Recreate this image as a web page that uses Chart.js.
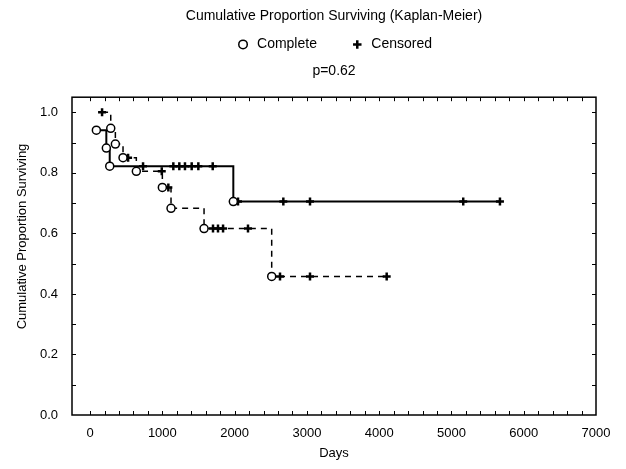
<!DOCTYPE html>
<html>
<head>
<meta charset="utf-8">
<script src="https://cdn.jsdelivr.net/npm/chart.js@4.4.1/dist/chart.umd.min.js"></script>
<style>
	html, body { margin: 0; padding: 0; background: #fff; }
	.chart-box { position: relative; width: 626px; height: 469px; }
</style>
</head>
<body>
<div class="chart-box"><canvas id="km"></canvas></div>
<script>
// group 1, solid curve (1 = complete, 0 = censored)
const solidDays = [87, 225, 272, 733, 1152, 1235, 1313, 1406, 1498, 1697, 1982, 2047, 2674, 3043, 5163, 5671];
const solidSurv = [0.941, 0.882, 0.822, 0.822, 0.822, 0.822, 0.822, 0.822, 0.822, 0.822, 0.705, 0.705, 0.705, 0.705, 0.705, 0.705];
const solidStatus = [1, 1, 1, 0, 0, 0, 0, 0, 0, 0, 1, 0, 0, 0, 0, 0];

// group 2, dashed curve
const dashedDays = [166, 286, 350, 456, 526, 640, 992, 1000, 1083, 1120, 1577, 1701, 1770, 1840, 2185, 2513, 2628, 3043, 4104];
const dashedSurv = [1.0, 0.947, 0.895, 0.85, 0.85, 0.805, 0.805, 0.752, 0.752, 0.683, 0.616, 0.616, 0.616, 0.616, 0.616, 0.458, 0.458, 0.458, 0.458];
const dashedStatus = [0, 1, 1, 1, 0, 1, 0, 1, 0, 1, 1, 0, 0, 0, 0, 1, 0, 0, 0];

const xTickValues = [0, 1000, 2000, 3000, 4000, 5000, 6000, 7000];
const yTickValues = [0, 0.2, 0.4, 0.6, 0.8, 1.0];

const ink = '#000';
const font = 'Liberation Sans, Arial, sans-serif';
const yTitle = 'Cumulative Proportion Surviving';

function toPoints(days, surv, status, keep) {
	const points = [];
	days.forEach((day, i) => {
		if (keep === undefined || status[i] === keep) {
			points.push({ x: day, y: surv[i] });
		}
	});
	return points;
}

function curve(days, surv, dash) {
	return {
		label: 'curve',
		data: toPoints(days, surv),
		showLine: true,
		stepped: true,
		borderColor: ink,
		borderWidth: dash ? 1.5 : 2,
		borderDash: dash ? [6, 5] : [],
		pointRadius: 0,
		order: 2,
	};
}

function marks(label, days, surv, status, keep) {
	const complete = keep === 1;
	return {
		label,
		data: toPoints(days, surv, status, keep),
		showLine: false,
		pointStyle: complete ? 'circle' : 'cross',
		pointRadius: 4,
		pointBorderWidth: complete ? 1.5 : 2.5,
		pointBackgroundColor: '#fff',
		pointBorderColor: ink,
		order: 0,
	};
}

// frame round the plot with small inward ticks
const framePlugin = {
	id: 'frame',
	afterDraw(chart) {
		const { ctx, chartArea: a, scales } = chart;
		ctx.save();
		ctx.strokeStyle = ink;
		ctx.lineWidth = 1.5;
		ctx.strokeRect(a.left, a.top, a.right - a.left, a.bottom - a.top);
		ctx.lineWidth = 1;
		ctx.beginPath();
		for (let v = 1; v <= 10; v++) {
			const y = Math.round(scales.y.getPixelForValue(v / 10)) + 0.5;
			ctx.moveTo(a.left, y);
			ctx.lineTo(a.left + 4, y);
			ctx.moveTo(a.right, y);
			ctx.lineTo(a.right - 4, y);
		}
		for (let d = 0; d < 7000; d += 200) {
			const x = Math.round(scales.x.getPixelForValue(d)) + 0.5;
			ctx.moveTo(x, a.bottom);
			ctx.lineTo(x, a.bottom - 4);
			ctx.moveTo(x, a.top);
			ctx.lineTo(x, a.top + 4);
		}
		ctx.stroke();

		// y title sits at the middle of the page, not of the plot
		ctx.translate(22, chart.height / 2 + 2);
		ctx.rotate(-Math.PI / 2);
		ctx.font = '13px ' + font;
		ctx.fillStyle = ink;
		ctx.textAlign = 'center';
		ctx.textBaseline = 'middle';
		ctx.fillText(yTitle, 0, 0);
		ctx.restore();
	},
};

Chart.defaults.font.family = font;
Chart.defaults.color = ink;

new Chart(document.getElementById('km'), {
	type: 'scatter',
	data: {
		datasets: [
			marks('Complete' + ' '.repeat(6), solidDays, solidSurv, solidStatus, 1),
			marks('Censored', solidDays, solidSurv, solidStatus, 0),
			marks('Complete', dashedDays, dashedSurv, dashedStatus, 1),
			marks('Censored', dashedDays, dashedSurv, dashedStatus, 0),
			curve(solidDays, solidSurv, false),
			curve(dashedDays, dashedSurv, true),
		],
	},
	options: {
		responsive: true,
		maintainAspectRatio: false,
		animation: false,
		events: [],
		layout: { padding: { right: 30 } },
		plugins: {
			title: {
				display: true,
				text: 'Cumulative Proportion Surviving (Kaplan-Meier)',
				fullSize: false,
				font: { size: 14, weight: 'normal' },
				padding: { top: 8, bottom: 2.6 },
			},
			subtitle: {
				display: true,
				text: 'p=0.62',
				fullSize: false,
				weight: 500,
				font: { size: 14 },
				padding: { top: 1, bottom: 18 },
			},
			legend: {
				fullSize: false,
				labels: {
					usePointStyle: true,
					boxWidth: 14,
					boxHeight: 6,
					padding: 10,
					font: { size: 14 },
					filter: (item) => item.datasetIndex < 2,
				},
			},
			tooltip: { enabled: false },
		},
		scales: {
			x: {
				type: 'linear',
				min: -250,
				max: 7000,
				grid: { display: false, drawTicks: false },
				border: { display: false },
				afterBuildTicks: (scale) => {
					scale.ticks = xTickValues.map((value) => ({ value }));
				},
				afterFit: (scale) => {
					scale.height = 54;
				},
				ticks: { padding: 11, font: { size: 13 }, callback: (v) => String(v) },
				title: { display: true, text: 'Days', font: { size: 13 }, padding: { top: 0, bottom: 8 } },
			},
			y: {
				min: 0,
				max: 1.05,
				grid: { display: false, drawTicks: false },
				border: { display: false },
				afterBuildTicks: (scale) => {
					scale.ticks = yTickValues.map((value) => ({ value }));
				},
				afterFit: (scale) => {
					scale.width = 72;
				},
				ticks: { padding: 14, font: { size: 13 }, callback: (v) => v.toFixed(1) },
			},
		},
	},
	plugins: [framePlugin],
});
</script>
</body>
</html>
